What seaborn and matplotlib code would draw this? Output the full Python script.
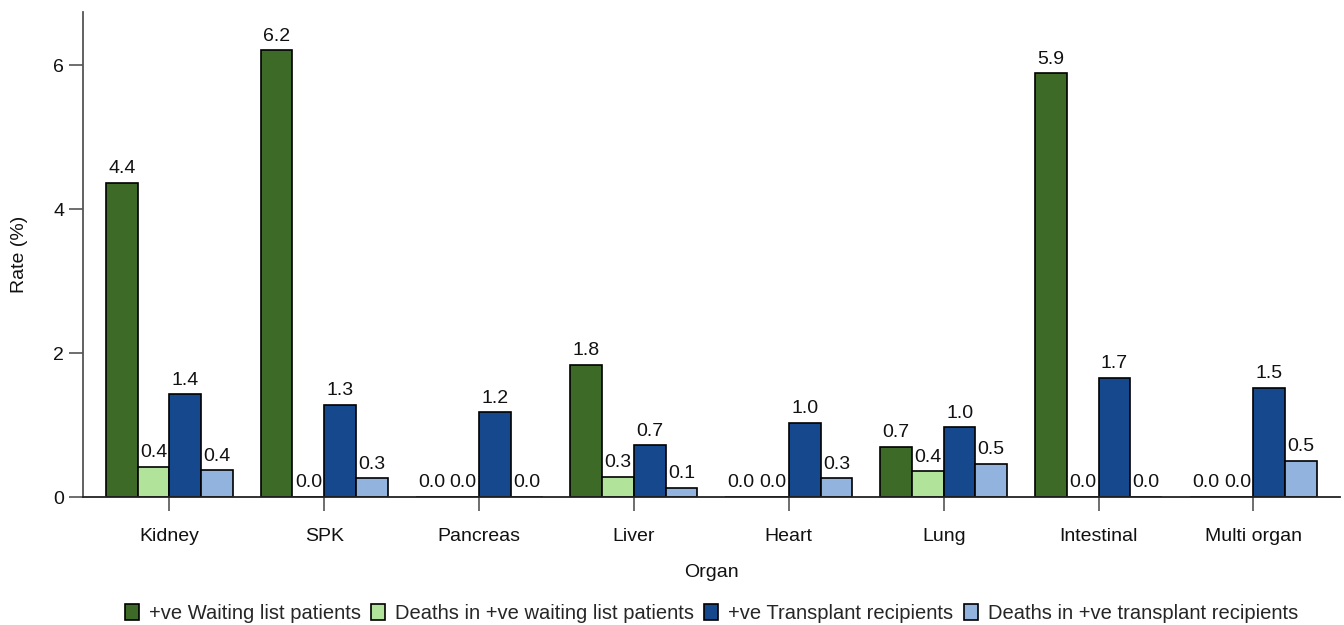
import matplotlib
matplotlib.use("Agg")
import matplotlib.pyplot as plt
import seaborn as sns
import pandas as pd

organs = ["Kidney", "SPK", "Pancreas", "Liver", "Heart", "Lung", "Intestinal", "Multi organ"]
series = ["+ve Waiting list patients", "Deaths in +ve waiting list patients",
          "+ve Transplant recipients", "Deaths in +ve transplant recipients"]
waiting_pos = [4.37, 6.21, 0.0, 1.84, 0.0, 0.70, 5.89, 0.0]
waiting_deaths = [0.42, 0.0, 0.0, 0.28, 0.0, 0.36, 0.0, 0.0]
transplant_pos = [1.43, 1.28, 1.18, 0.72, 1.03, 0.97, 1.66, 1.52]
transplant_deaths = [0.37, 0.26, 0.0, 0.13, 0.26, 0.46, 0.0, 0.50]
colors = ["#3E6A27", "#B2E39B", "#15488C", "#92B3DD"]

values = [waiting_pos, waiting_deaths, transplant_pos, transplant_deaths]
rows = []
for s, vals in zip(series, values):
    for o, v in zip(organs, vals):
        rows.append({"Organ": o, "Series": s, "Rate": v})
df = pd.DataFrame(rows)

sns.set_style("white")
plt.rcParams["font.family"] = ["Liberation Sans", "DejaVu Sans"]

fig = plt.figure(figsize=(13.44, 6.25), dpi=100)
ax = fig.add_axes([0.0618, 0.2048, 0.935, 0.776])

sns.barplot(data=df, x="Organ", y="Rate", hue="Series", order=organs, hue_order=series,
            palette=colors, width=0.82, edgecolor="black", linewidth=1.2,
            saturation=1, ax=ax, legend=True)

for cont in ax.containers:
    ax.bar_label(cont, fmt="%.1f", padding=4, fontsize=14, color="#111111")

ax.set_xlim(-0.557, 7.557)
ax.set_ylim(0, 6.74)
ax.set_yticks([0, 2, 4, 6])
ax.set_yticklabels(["0", "2", "4", "6"])
for side in ["top", "right"]:
    ax.spines[side].set_visible(False)
ax.spines["left"].set_color("#555555")
ax.spines["left"].set_linewidth(1.3)
ax.spines["bottom"].set_color("#222222")
ax.spines["bottom"].set_linewidth(1.3)
ax.tick_params(axis="both", which="major", length=10, width=1.2, color="#555555",
               labelsize=14, labelcolor="#111111", direction="out", left=True, bottom=True)
ax.tick_params(axis="x", pad=12)
ax.set_xlabel("Organ", fontsize=14, labelpad=14, color="#111111")
ax.set_ylabel("Rate (%)", fontsize=14, labelpad=18, color="#111111")

ax.legend(loc="center", bbox_to_anchor=(0.5, -0.24), ncol=4, frameon=False,
          fontsize=14.5, handlelength=0.7, handleheight=0.9, handletextpad=0.5,
          columnspacing=0.5)

fig.savefig("out.png", dpi=100)
